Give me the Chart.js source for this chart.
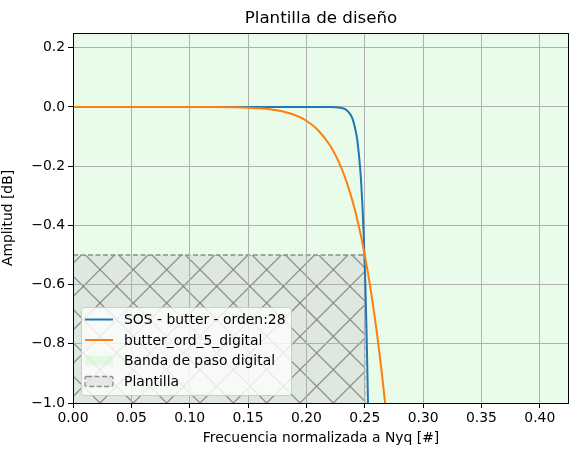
<!DOCTYPE html>
<html>
<head>
<meta charset="utf-8">
<script src="https://cdn.jsdelivr.net/npm/chart.js@4.4.0/dist/chart.umd.min.js"></script>
<style>
  html, body { margin: 0; padding: 0; background: #fff; }
  #wrap { width: 578px; height: 455px; }
</style>
</head>
<body>
<div id="wrap"><canvas id="c" width="578" height="455"></canvas></div>
<script>
// --- data ---
const titleText  = 'Plantilla de diseño';
const xLabel     = 'Frecuencia normalizada a Nyq [#]';
const yLabel     = 'Amplitud [dB]';

const sosFreq = [0, 0.05, 0.10, 0.15, 0.20, 0.21, 0.22, 0.225, 0.23, 0.232, 0.235, 0.238, 0.24, 0.243, 0.244,
                 0.246, 0.247, 0.248, 0.249, 0.25, 0.2505, 0.251, 0.2515, 0.252, 0.2525, 0.253, 0.2535, 0.254, 0.256];
const sosAmp  = [0, 0, 0, 0, 0, 0, -0.0002, -0.0009, -0.0033, -0.0056, -0.0124, -0.0271, -0.0452, -0.0968, -0.1244,
                 -0.2044, -0.2611, -0.3326, -0.4226, -0.5351, -0.5997, -0.6746, -0.7555, -0.8462, -0.9464, -1.056, -1.176, -1.311, -1.973];

const bw5Freq = [0, 0.05, 0.10, 0.12, 0.14, 0.15, 0.16, 0.17, 0.18, 0.19, 0.20, 0.21, 0.22, 0.225, 0.23,
                 0.235, 0.24, 0.245, 0.25, 0.255, 0.26, 0.265, 0.27, 0.28];
const bw5Amp  = [0, 0, 0, -0.0002, -0.0011, -0.0023, -0.0044, -0.0084, -0.0152, -0.0270, -0.0464, -0.0784, -0.1285, -0.1634, -0.2063,
                 -0.2597, -0.3247, -0.4041, -0.5000, -0.6150, -0.7515, -0.9124, -1.1024, -1.573];

const bandFreq = [0, 0.5];
const bandAmp  = [5, 5];

const plantFreq = [0, 0.25, 0.25];
const plantAmp  = [-0.5, -0.5, -1.0];

const xTicks = [0, 0.05, 0.10, 0.15, 0.20, 0.25, 0.30, 0.35, 0.40];
const yTicks = [-1.0, -0.8, -0.6, -0.4, -0.2, 0.0, 0.2];
const xRange = [0, 0.425];
const yRange = [-1.0, 0.25];

const legendOrder = [0, 1, 3, 2];

const pts = (xs, ys) => xs.map((x, i) => ({ x, y: ys[i] }));
const FONT = 'DejaVu Sans';
const fmtMinus = s => s.replace('-', '\u2212');

// hatch tile for the template ('x' hatch over translucent light gray)
function makeHatch() {
    const tile = document.createElement('canvas');
    tile.width = 100; tile.height = 100;
    const g = tile.getContext('2d');
    g.fillStyle = 'rgba(211,211,211,0.5)';
    g.fillRect(0, 0, 100, 100);
    g.strokeStyle = 'rgba(128,128,128,0.85)';
    g.lineWidth = 1.3;
    const step = 100 / 3;
    for (let n = -2; n <= 8; n++) {
        const c1 = 3 + step * n;     // x + y = c1
        g.beginPath(); g.moveTo(c1 + 20, -20); g.lineTo(c1 - 120, 120); g.stroke();
        const c2 = -3 + step * n;    // x - y = c2
        g.beginPath(); g.moveTo(c2 - 20, -20); g.lineTo(c2 + 120, 120); g.stroke();
    }
    return document.getElementById('c').getContext('2d').createPattern(tile, 'repeat');
}

const hatch = makeHatch();

// grid sits above the filled patches but below the curves (matplotlib default)
const gridOverPatches = {
    id: 'gridOverPatches',
    afterDatasetDraw(chart, args) {
        if (args.index === 2) {
            chart.scales.x.drawGrid(chart.chartArea);
            chart.scales.y.drawGrid(chart.chartArea);
        }
    }
};

const decorations = {
    id: 'decorations',
    afterDraw(chart) {
        const ctx = chart.ctx;
        const a = chart.chartArea;
        ctx.save();
        // frame
        ctx.strokeStyle = '#000';
        ctx.lineWidth = 1;
        ctx.strokeRect(Math.round(a.left) + 0.5, Math.round(a.top) + 0.5,
                       Math.round(a.right - a.left) - 1, Math.round(a.bottom - a.top));
        // title
        ctx.fillStyle = '#000';
        ctx.font = `16.7px "${FONT}"`;
        ctx.textAlign = 'center';
        ctx.textBaseline = 'middle';
        ctx.fillText(titleText, (a.left + a.right) / 2, 19);

        // legend
        const lx = 81, ly = 307, lw = 210, lh = 88, r = 3;
        ctx.beginPath();
        ctx.roundRect(lx + 0.5, ly + 0.5, lw, lh, r);
        ctx.fillStyle = 'rgba(255,255,255,0.8)';
        ctx.fill();
        ctx.strokeStyle = '#cccccc';
        ctx.lineWidth = 1;
        ctx.stroke();

        const ds = chart.data.datasets;
        const rows = [319.5, 340, 360.5, 381.5];
        ctx.font = `13.9px "${FONT}"`;
        ctx.textAlign = 'left';
        ctx.textBaseline = 'middle';
        legendOrder.forEach((i, row) => {
            const d = ds[i];
            const y = rows[row];
            if (i < 2) {
                ctx.strokeStyle = d.borderColor;
                ctx.lineWidth = 2;
                ctx.setLineDash([]);
                ctx.beginPath(); ctx.moveTo(85, y); ctx.lineTo(113, y); ctx.stroke();
            } else if (i === 2) {
                ctx.fillStyle = 'rgba(211,211,211,0.5)';
                ctx.fillRect(85, y - 5, 28, 10);
                ctx.strokeStyle = '#8c8c8c';
                ctx.lineWidth = 1.3;
                ctx.setLineDash([5, 2.5]);
                ctx.beginPath(); ctx.roundRect(85, y - 5, 28, 10, 2); ctx.stroke();
                ctx.setLineDash([]);
            } else {
                ctx.fillStyle = d.backgroundColor;
                ctx.fillRect(85, y - 5, 28, 10);
            }
            ctx.fillStyle = '#000';
            ctx.fillText(d.label, 124, y + 1);
        });
        ctx.restore();
    }
};

const tickFont = { family: FONT, size: 13.9 };

new Chart(document.getElementById('c'), {
    type: 'line',
    data: {
        datasets: [
            {
                label: 'SOS - butter - orden:28',
                data: pts(sosFreq, sosAmp),
                borderColor: '#1f77b4', borderWidth: 2,
                pointRadius: 0, fill: false, order: 2,
                cubicInterpolationMode: 'monotone'
            },
            {
                label: 'butter_ord_5_digital',
                data: pts(bw5Freq, bw5Amp),
                borderColor: '#ff7f0e', borderWidth: 2,
                pointRadius: 0, fill: false, order: 1,
                cubicInterpolationMode: 'monotone'
            },
            {
                label: 'Plantilla',
                data: pts(plantFreq, plantAmp),
                borderColor: '#8c8c8c', borderWidth: 1.3, borderDash: [5, 2.5],
                backgroundColor: hatch,
                pointRadius: 0, fill: 'start', order: 3
            },
            {
                label: 'Banda de paso digital',
                data: pts(bandFreq, bandAmp),
                borderWidth: 0, borderColor: 'rgba(0,0,0,0)',
                backgroundColor: 'rgba(144,238,144,0.2)',
                pointRadius: 0, fill: 'start', order: 4
            }
        ]
    },
    options: {
        responsive: false,
        animation: false,
        layout: { padding: { top: 33, right: 9, left: 0, bottom: 0 } },
        plugins: { legend: { display: false }, tooltip: { enabled: false }, title: { display: false } },
        scales: {
            x: {
                type: 'linear', min: xRange[0], max: xRange[1],
                afterBuildTicks: s => { s.ticks = xTicks.map(v => ({ value: v })); },
                afterFit: s => { s.height = 52; },
                ticks: { callback: v => v.toFixed(2), font: tickFont, color: '#000', padding: 2, maxRotation: 0, autoSkip: false },
                grid: { color: '#b0b0b0', lineWidth: 1, tickColor: '#000', tickLength: 5 },
                border: { display: false },
                title: { display: true, text: xLabel, font: tickFont, color: '#000', padding: { top: 2, bottom: 8 } }
            },
            y: {
                type: 'linear', min: yRange[0], max: yRange[1],
                afterBuildTicks: s => { s.ticks = yTicks.map(v => ({ value: v })); },
                afterFit: s => { s.width = 73; },
                ticks: { callback: v => fmtMinus(v.toFixed(1)), font: tickFont, color: '#000', padding: 3, autoSkip: false },
                grid: { color: '#b0b0b0', lineWidth: 1, tickColor: '#000', tickLength: 5 },
                border: { display: false },
                title: { display: true, text: yLabel, font: tickFont, color: '#000', padding: { top: 0, bottom: 4 } }
            }
        }
    },
    plugins: [gridOverPatches, decorations]
});
</script>
</body>
</html>
